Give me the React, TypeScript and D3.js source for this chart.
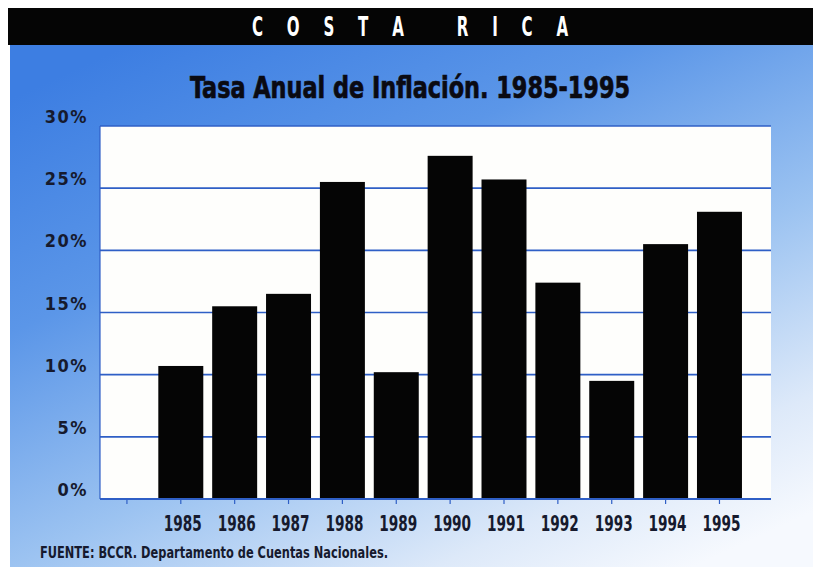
import React from "react";
import * as d3 from "d3";

// Annual inflation rate, Costa Rica
const years = ["1985", "1986", "1987", "1988", "1989", "1990", "1991", "1992", "1993", "1994", "1995"];
const inflation = [10.7, 15.5, 16.5, 25.5, 10.2, 27.6, 25.7, 17.4, 9.5, 20.5, 23.1];
const yTicks = [0, 5, 10, 15, 20, 25, 30];

const headerText = "C O S T A   R I C A";
const titleText = "Tasa Anual de Inflación. 1985-1995";
const sourceText = "FUENTE: BCCR. Departamento de Cuentas Nacionales.";

const W = 813;
const H = 577;
const plot = { left: 100, right: 771, top: 126, bottom: 499 };
const FONT = "'Liberation Sans Narrow', 'DejaVu Sans Condensed', 'Open Sans', sans-serif";
const INK = "#161a2e";
const GRID = "#2f5fc6";

export default function App() {
  // an empty leading slot keeps the first bar off the left axis
  const domain = ["", ...years];
  const x = d3
    .scaleBand<string>()
    .domain(domain)
    .range([100, 746.4])
    .paddingInner(0.165)
    .paddingOuter(0.0825);
  const y = d3.scaleLinear().domain([0, 30]).range([plot.bottom, plot.top]);

  return (
    <svg width={W} height={H} style={{ position: "absolute", left: 0, top: 0, background: "#fff" }}>
      <defs>
        <linearGradient id="bg" x1="0.15" y1="0" x2="0.85" y2="1">
          <stop offset="0" stopColor="#3d7ee2" />
          <stop offset="0.3" stopColor="#5b96e8" />
          <stop offset="0.6" stopColor="#9cc3f1" />
          <stop offset="0.85" stopColor="#dde9f9" />
          <stop offset="1" stopColor="#f6f9fe" />
        </linearGradient>
      </defs>

      {/* panel */}
      <rect x={10} y={44} width={W - 10} height={523} fill="url(#bg)" />
      <rect x={8} y={8} width={W - 8} height={37} fill="#050505" />
      <g transform="translate(410,0) scale(0.62,1)">
        <text
          x={0}
          y={36}
          textAnchor="middle"
          fill="#fff"
          fontFamily={FONT}
          fontWeight="bold"
          fontSize={27}
          textLength={510}
          lengthAdjust="spacing"
          style={{ whiteSpace: "pre" }}
        >
          {headerText}
        </text>
      </g>

      <text
        x={410}
        y={98}
        textAnchor="middle"
        fill="#0a0a12"
        stroke="#0a0a12"
        strokeWidth={0.7}
        fontFamily={FONT}
        fontWeight="bold"
        fontSize={31}
        textLength={440}
        lengthAdjust="spacingAndGlyphs"
      >
        {titleText}
      </text>

      {/* plot area */}
      <rect
        x={plot.left}
        y={plot.top}
        width={plot.right - plot.left}
        height={plot.bottom - plot.top}
        fill="#fefefc"
      />
      {yTicks.map((t) => (
        <g key={t}>
          <line x1={plot.left} x2={plot.right} y1={y(t)} y2={y(t)} stroke={GRID} strokeWidth={1.6} />
          <text
            x={88}
            y={y(t) - 3}
            textAnchor="end"
            fill={INK}
            fontFamily={FONT}
            fontWeight="bold"
            fontSize={18}
            letterSpacing={1.5}
          >
            {t}%
          </text>
        </g>
      ))}
      <line x1={plot.left} x2={plot.left} y1={plot.top} y2={plot.bottom} stroke={GRID} strokeWidth={1.2} />

      {/* bars */}
      {years.map((yr, i) => (
        <rect
          key={yr}
          x={x(yr)}
          y={y(inflation[i])}
          width={x.bandwidth()}
          height={y(0) - y(inflation[i])}
          fill="#050505"
        />
      ))}
      <line x1={plot.left} x2={plot.right} y1={y(0)} y2={y(0)} stroke={GRID} strokeWidth={1.8} />

      {/* x ticks and labels */}
      {domain.map((d) => {
        const cx = (x(d) as number) + x.bandwidth() / 2;
        return (
          <g key={"t" + d}>
            <line x1={cx} x2={cx} y1={y(0)} y2={y(0) + 5} stroke={GRID} strokeWidth={1.2} />
            {d && (
              <text
                x={cx + 2}
                y={531}
                textAnchor="middle"
                fill={INK}
                fontFamily={FONT}
                fontWeight="bold"
                fontSize={21}
                textLength={38}
                lengthAdjust="spacingAndGlyphs"
              >
                {d}
              </text>
            )}
          </g>
        );
      })}

      <text
        x={40}
        y={558}
        fill={INK}
        fontFamily={FONT}
        fontWeight="bold"
        fontSize={15}
        textLength={348}
        lengthAdjust="spacingAndGlyphs"
      >
        {sourceText}
      </text>
    </svg>
  );
}
